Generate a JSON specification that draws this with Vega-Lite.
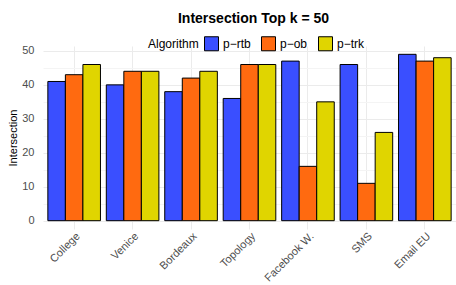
{
  "$schema": "https://vega.github.io/schema/vega-lite/v6.json",
  "width": 413,
  "height": 183,
  "autosize": {"type": "none"},
  "padding": {"left": 43, "top": 46, "right": 0, "bottom": 56},
  "background": "white",
  "title": {
    "text": "Intersection Top k = 50",
    "fontSize": 14,
    "font": "Liberation Sans",
    "fontWeight": "bold",
    "anchor": "middle",
    "dx": 4,
    "offset": 10
  },
  "data": {
    "values": [
      {"dataset": "College", "algorithm": "p−rtb", "value": 41},
      {"dataset": "College", "algorithm": "p−ob", "value": 43},
      {"dataset": "College", "algorithm": "p−trk", "value": 46},
      {"dataset": "Venice", "algorithm": "p−rtb", "value": 40},
      {"dataset": "Venice", "algorithm": "p−ob", "value": 44},
      {"dataset": "Venice", "algorithm": "p−trk", "value": 44},
      {"dataset": "Bordeaux", "algorithm": "p−rtb", "value": 38},
      {"dataset": "Bordeaux", "algorithm": "p−ob", "value": 42},
      {"dataset": "Bordeaux", "algorithm": "p−trk", "value": 44},
      {"dataset": "Topology", "algorithm": "p−rtb", "value": 36},
      {"dataset": "Topology", "algorithm": "p−ob", "value": 46},
      {"dataset": "Topology", "algorithm": "p−trk", "value": 46},
      {"dataset": "Facebook W.", "algorithm": "p−rtb", "value": 47},
      {"dataset": "Facebook W.", "algorithm": "p−ob", "value": 16},
      {"dataset": "Facebook W.", "algorithm": "p−trk", "value": 35},
      {"dataset": "SMS", "algorithm": "p−rtb", "value": 46},
      {"dataset": "SMS", "algorithm": "p−ob", "value": 11},
      {"dataset": "SMS", "algorithm": "p−trk", "value": 26},
      {"dataset": "Email EU", "algorithm": "p−rtb", "value": 49},
      {"dataset": "Email EU", "algorithm": "p−ob", "value": 47},
      {"dataset": "Email EU", "algorithm": "p−trk", "value": 48}
    ]
  },
  "mark": {"type": "bar", "stroke": "black", "strokeWidth": 1},
  "encoding": {
    "x": {
      "field": "dataset",
      "type": "nominal",
      "sort": ["College", "Venice", "Bordeaux", "Topology", "Facebook W.", "SMS", "Email EU"],
      "scale": {"paddingInner": 0.1, "paddingOuter": 0.083},
      "axis": {
        "title": null,
        "labelAngle": -45,
        "labelAlign": "right",
        "labelBaseline": "top",
        "labelFontSize": 11,
        "labelColor": "#4D4D4D",
        "labelFont": "Liberation Sans",
        "labelPadding": 1,
        "ticks": false,
        "domain": false,
        "grid": true,
        "bandPosition": 0.5,
        "gridColor": "#EBEBEB",
        "gridWidth": 1
      }
    },
    "xOffset": {
      "field": "algorithm",
      "type": "nominal",
      "sort": ["p−rtb", "p−ob", "p−trk"],
      "scale": {"paddingInner": 0, "paddingOuter": 0}
    },
    "y": {
      "field": "value",
      "type": "quantitative",
      "scale": {"domain": [-2.45, 51.45], "nice": false, "zero": false},
      "axis": {
        "title": "Intersection",
        "titleFontSize": 11,
        "titleFont": "Liberation Sans",
        "titleFontWeight": "normal",
        "titleColor": "black",
        "titlePadding": 3,
        "values": [0, 5, 10, 15, 20, 25, 30, 35, 40, 45, 50],
        "labelExpr": "datum.value % 10 === 0 ? datum.label : ''",
        "labelFontSize": 11,
        "labelColor": "#4D4D4D",
        "labelFont": "Liberation Sans",
        "labelPadding": 9,
        "ticks": false,
        "domain": false,
        "grid": true,
        "gridColor": {"condition": {"test": "datum.value % 10 === 0", "value": "#EBEBEB"}, "value": "#F4F4F4"}
      }
    },
    "color": {
      "field": "algorithm",
      "type": "nominal",
      "sort": ["p−rtb", "p−ob", "p−trk"],
      "scale": {"domain": ["p−rtb", "p−ob", "p−trk"], "range": ["#3A4FFF", "#FF6A10", "#E0D500"]},
      "legend": {
        "title": "Algorithm",
        "orient": "none",
        "legendX": 105,
        "legendY": -10,
        "direction": "horizontal",
        "titleOrient": "left",
        "titleFontSize": 12,
        "titleFont": "Liberation Sans",
        "titleFontWeight": "normal",
        "titleColor": "black",
        "titlePadding": 5,
        "titleBaseline": "middle",
        "labelFontSize": 12,
        "labelFont": "Liberation Sans",
        "labelColor": "black",
        "labelOffset": 4,
        "columnPadding": 8,
        "symbolType": "square",
        "symbolSize": 196,
        "symbolStrokeColor": "black",
        "symbolStrokeWidth": 1,
        "symbolOpacity": 1
      }
    }
  },
  "config": {
    "view": {"stroke": null},
    "font": "Liberation Sans"
  }
}
